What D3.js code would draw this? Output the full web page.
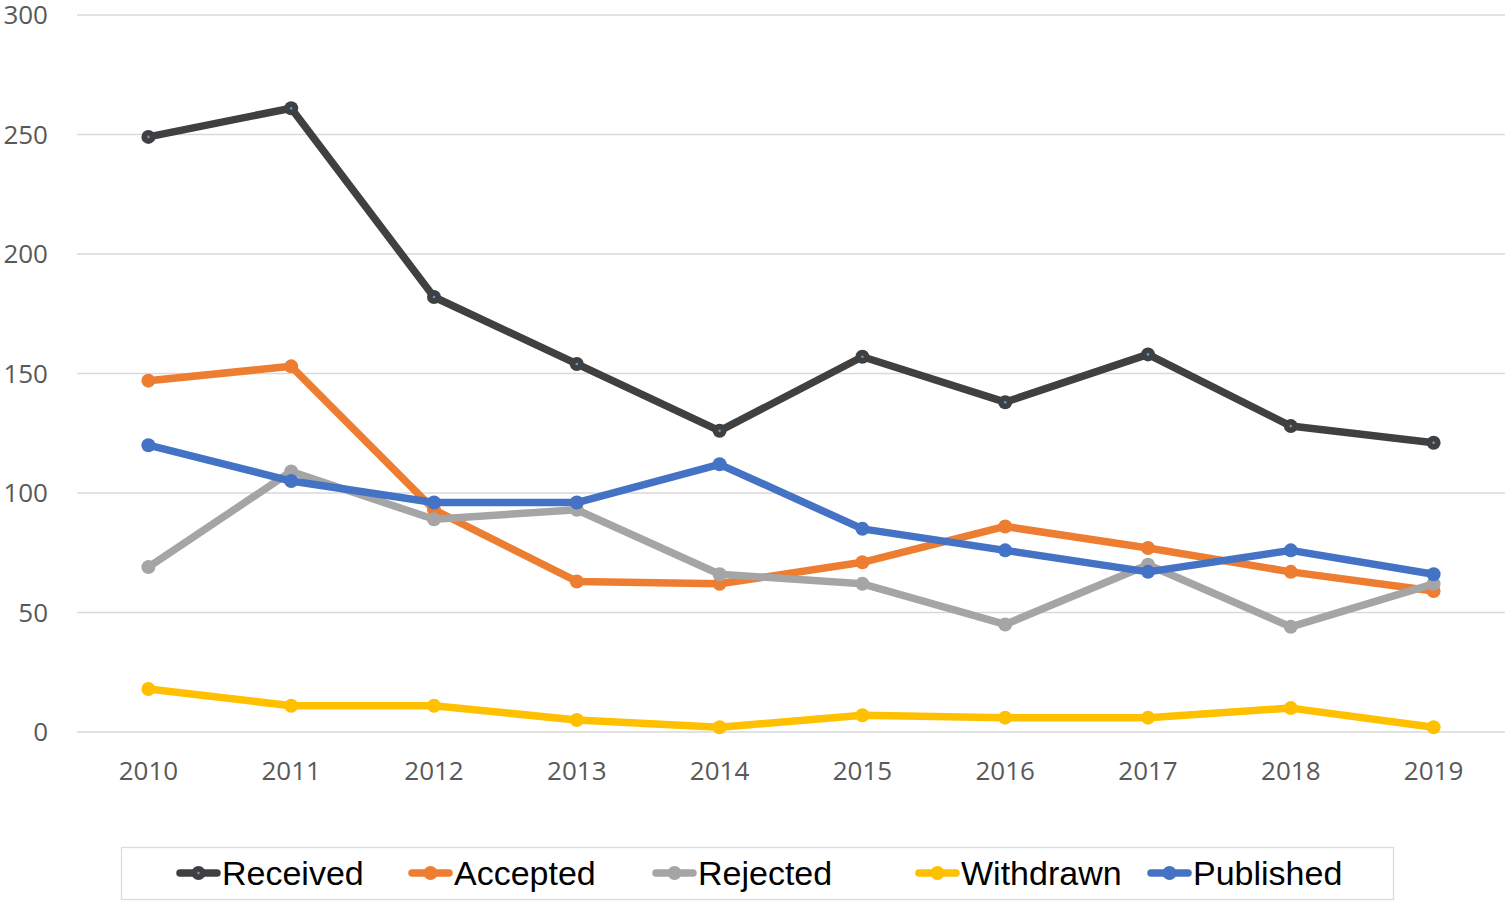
<!DOCTYPE html>
<html>
<head>
<meta charset="utf-8">
<script src="https://cdn.jsdelivr.net/npm/d3@7"></script>
<style>
    body { margin: 0; background: #fff; }
</style>
</head>
<body>
<div id="chart"></div>
<script>
let years = ["2010", "2011", "2012", "2013", "2014", "2015", "2016", "2017", "2018", "2019"];
let yTicks = [0, 50, 100, 150, 200, 250, 300];

let seriesNames = ["Received", "Accepted", "Rejected", "Withdrawn", "Published"];
let received = [249, 261, 182, 154, 126, 157, 138, 158, 128, 121];
let accepted = [147, 153, 93, 63, 62, 71, 86, 77, 67, 59];
let rejected = [69, 109, 89, 93, 66, 62, 45, 70, 44, 62];
let withdrawn = [18, 11, 11, 5, 2, 7, 6, 6, 10, 2];
let published = [120, 105, 96, 96, 112, 85, 76, 67, 76, 66];

let colors = ["#404040", "#ed7d31", "#a5a5a5", "#ffc000", "#4472c4"];

let svgWidth = 1508;
let svgHeight = 905;

let series = [received, accepted, rejected, withdrawn, published];

let xScale = d3.scaleBand()
    .domain(years)
    .range([77, 1505]);

let yScale = d3.scaleLinear()
    .domain([0, 300])
    .range([732, 15]);

let svg = d3.select("#chart")
    .append("svg")
    .attr("width", svgWidth)
    .attr("height", svgHeight);

// gridlines
svg.selectAll("line.grid")
    .data(yTicks)
    .enter()
    .append("line")
    .attr("class", "grid")
    .attr("x1", 77)
    .attr("x2", 1505)
    .attr("y1", (d) => yScale(d))
    .attr("y2", (d) => yScale(d))
    .attr("stroke", "#d9d9d9")
    .attr("stroke-width", 1.3);

// y labels
svg.selectAll("text.ylab")
    .data(yTicks)
    .enter()
    .append("text")
    .attr("class", "ylab")
    .attr("x", 48)
    .attr("y", (d) => yScale(d) + 9)
    .attr("text-anchor", "end")
    .attr("font-family", "Open Sans, sans-serif")
    .attr("font-size", "26px")
    .attr("fill", "#595959")
    .text((d) => d);

// x labels
svg.selectAll("text.xlab")
    .data(years)
    .enter()
    .append("text")
    .attr("class", "xlab")
    .attr("x", (d) => xScale(d) + xScale.bandwidth() / 2)
    .attr("y", 780)
    .attr("text-anchor", "middle")
    .attr("font-family", "Open Sans, sans-serif")
    .attr("font-size", "26px")
    .attr("fill", "#595959")
    .text((d) => d);

let cx = (i) => xScale(years[i]) + xScale.bandwidth() / 2;

let line = d3.line()
    .x((d, i) => cx(i))
    .y((d) => yScale(d));

series.forEach((values, s) => {
    let g = svg.append("g");
    g.append("path")
        .datum(values)
        .attr("d", line)
        .attr("fill", "none")
        .attr("stroke", colors[s])
        .attr("stroke-width", 7.5)
        .attr("stroke-linejoin", "round");
    g.selectAll("circle")
        .data(values)
        .enter()
        .append("circle")
        .attr("cx", (d, i) => cx(i))
        .attr("cy", (d) => yScale(d))
        .attr("r", 7)
        .attr("fill", colors[s]);
    if (s == 0) {
        g.selectAll("circle.dot")
            .data(values)
            .enter()
            .append("circle")
            .attr("class", "dot")
            .attr("cx", (d, i) => cx(i))
            .attr("cy", (d) => yScale(d))
            .attr("r", 1.3)
            .attr("fill", "#5b9bd5");
    }
});

// legend
svg.append("rect")
    .attr("x", 121.5)
    .attr("y", 847.5)
    .attr("width", 1272)
    .attr("height", 52)
    .attr("fill", "#fff")
    .attr("stroke", "#d6dce4")
    .attr("stroke-width", 1.3);

let legendX = [177, 409, 653, 916, 1148];

seriesNames.forEach((name, s) => {
    let x0 = legendX[s];
    let g = svg.append("g");
    g.append("line")
        .attr("x1", x0 + 3)
        .attr("x2", x0 + 40)
        .attr("y1", 873)
        .attr("y2", 873)
        .attr("stroke", colors[s])
        .attr("stroke-width", 7.5)
        .attr("stroke-linecap", "round");
    g.append("circle")
        .attr("cx", x0 + 21.5)
        .attr("cy", 873)
        .attr("r", 7)
        .attr("fill", colors[s]);
    if (s == 0) {
        g.append("circle")
            .attr("cx", x0 + 21.5)
            .attr("cy", 873)
            .attr("r", 1.3)
            .attr("fill", "#5b9bd5");
    }
    g.append("text")
        .attr("x", x0 + 45)
        .attr("y", 885)
        .attr("font-family", "Liberation Sans, Arial, sans-serif")
        .attr("font-size", "34px")
        .attr("fill", "#000")
        .text(name);
});
</script>
</body>
</html>
